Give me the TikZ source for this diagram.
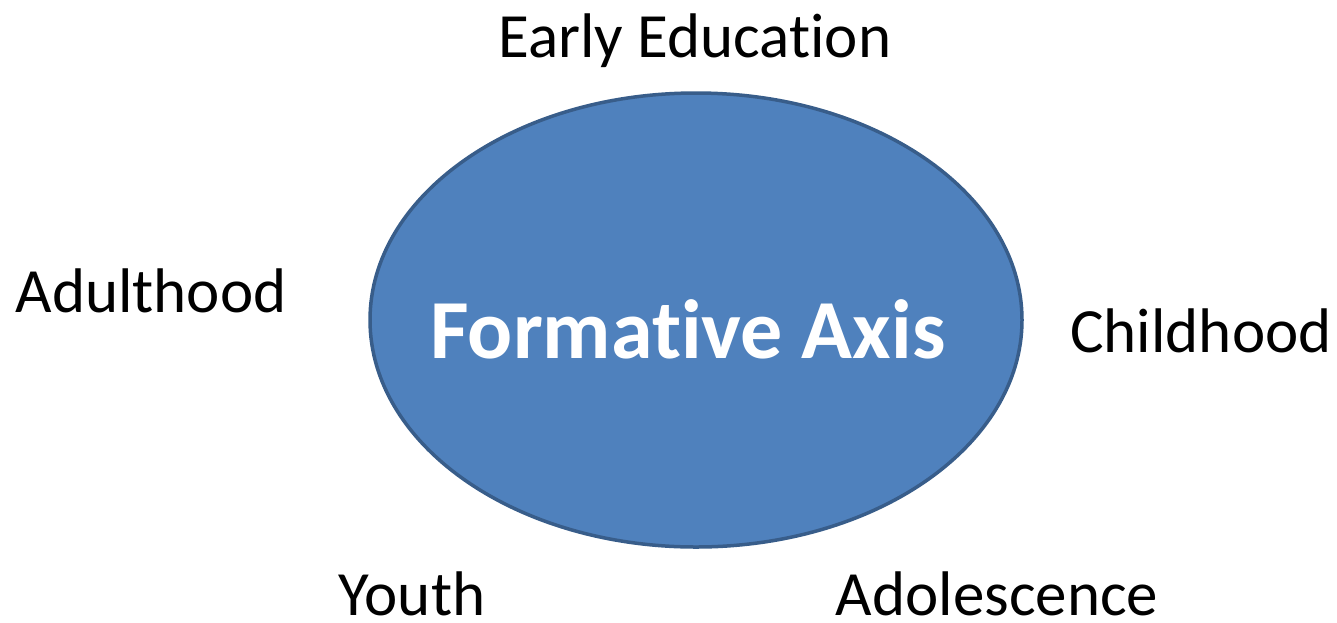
\documentclass[tikz,border=0pt]{standalone}
\usepackage{fontspec}
\usetikzlibrary{shapes.geometric}
\setmainfont[Ligatures=NoCommon]{Carlito}
\newcommand{\nolig}{\kern0pt }
\definecolor{ellfill}{HTML}{4F81BD}
\definecolor{elldraw}{HTML}{385D8A}
\begin{document}
\begin{tikzpicture}[x=1pt,y=-1pt,
  lbl/.style={anchor=base,inner sep=0pt,text depth=0pt,font=\fontsize{63}{75}\selectfont},
  core/.style={ellipse,fill=ellfill,draw=elldraw,line width=3.5pt,minimum width=652pt,minimum height=454pt,inner sep=0pt}]
\useasboundingbox (0,0) rectangle (1337,622);
\node[core] (axis) at (696,320) {};
\node[anchor=base,inner sep=0pt,text=white,font=\fontsize{84}{100}\selectfont\bfseries] (title) at (688,358) {Format\nolig ive Axis};
\node[lbl] (early) at (695,57) {Early Educat\nolig ion};
\node[lbl] (adult) at (151,312) {Adulthood};
\node[lbl] (child) at (1201,352) {Childhood};
\node[lbl] (youth) at (412,615) {Youth};
\node[lbl] (adol) at (997,615) {Adolescence};
\end{tikzpicture}
\end{document}
